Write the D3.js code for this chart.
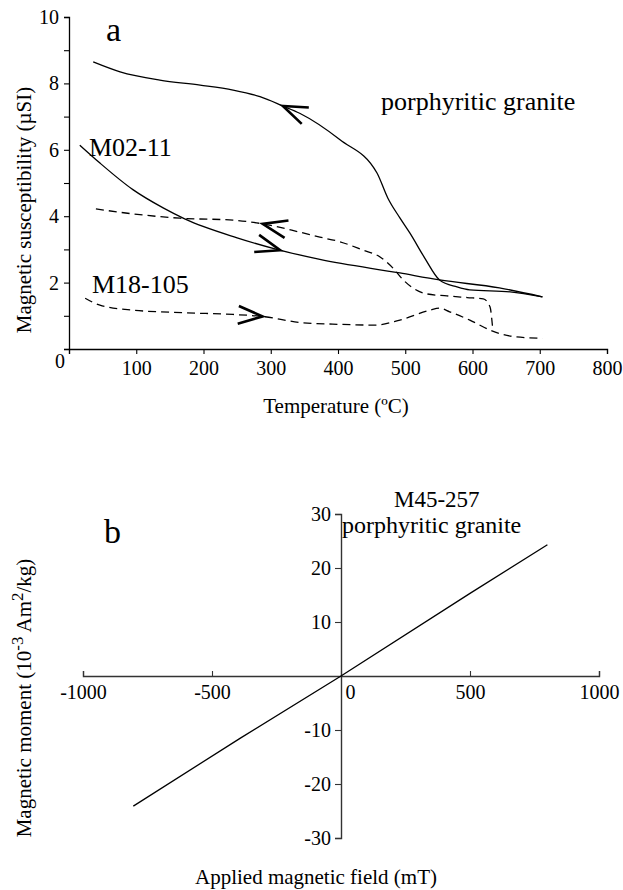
<!DOCTYPE html>
<html>
<head>
<meta charset="utf-8">
<script src="https://cdn.jsdelivr.net/npm/d3@7"></script>
<style>
body { margin: 0; background: #fff; }
svg text { font-family: "Liberation Serif", "Times New Roman", serif; fill: #000; }
</style>
</head>
<body>
<div id="chart"></div>
<script>
// panel a: susceptibility (uSI) vs temperature (C)
var m02HeatT = [16, 46, 95, 140, 172, 250, 313, 373, 492, 551, 640, 704];
var m02HeatK = [6.14, 5.6, 4.8, 4.25, 3.92, 3.35, 2.98, 2.7, 2.29, 2.08, 1.84, 1.57];

var m02CoolT = [36, 76, 135, 195, 244, 284, 318, 343, 403, 458, 474, 492, 507, 529, 551, 577, 596, 656, 704];
var m02CoolK = [8.65, 8.35, 8.1, 7.95, 7.8, 7.6, 7.32, 7.1, 6.3, 5.3, 4.55, 3.95, 3.49, 2.74, 2.08, 1.87, 1.78, 1.72, 1.57];

var m18HeatT = [24, 46, 95, 175, 244, 288, 343, 392, 455, 492, 537, 551, 566, 596, 626, 656, 704];
var m18HeatK = [1.53, 1.32, 1.17, 1.09, 1.04, 0.98, 0.8, 0.75, 0.72, 0.87, 1.17, 1.23, 1.12, 0.87, 0.57, 0.39, 0.32];

var m18CoolT = [40, 95, 165, 244, 288, 343, 373, 403, 437, 462, 482, 497, 512, 532, 562, 592, 616, 626, 630];
var m18CoolK = [4.22, 4.07, 3.94, 3.88, 3.77, 3.52, 3.37, 3.23, 2.98, 2.78, 2.43, 2.08, 1.83, 1.66, 1.6, 1.55, 1.51, 1.27, 0.62];

// direction arrows: which curve, at what temperature, pointing to lower (-1) or higher (+1) T
var arrowCurve = ["m02Cool", "m18Cool", "m02Heat", "m18Heat"];
var arrowT = [318, 288, 314, 288];
var arrowDir = [-1, -1, 1, 1];

var tempTicks = [0, 100, 200, 300, 400, 500, 600, 700, 800];
var suscTicks = [0, 1, 2, 3, 4, 5, 6, 7, 8, 9, 10];

// panel b: magnetic moment vs applied field
var fieldMT = [-805, -390, 0, 500, 800];
var momentVals = [-24.1, -11.5, 0, 15.3, 24.3];
var fieldTicks = [-1000, -500, 0, 500, 1000];
var momentTicks = [-30, -20, -10, 10, 20, 30];

var serif = "'Liberation Serif', 'Times New Roman', serif";

var svg = d3.select("#chart").append("svg")
    .attr("width", 623)
    .attr("height", 890)
    .style("font-family", serif);

function styleAxis(ax, col, w) {
    ax.attr("font-family", null).attr("font-size", null);
    ax.select(".domain").attr("stroke", col).attr("stroke-width", w);
    ax.selectAll(".tick line").attr("stroke", col).attr("stroke-width", 1.1);
    ax.selectAll(".tick text")
        .style("font-family", serif)
        .style("font-size", "20px")
        .attr("fill", "#000");
}

// ---------- panel a ----------
var xA = d3.scaleLinear().domain([0, 800]).range([69, 607]);
var yA = d3.scaleLinear().domain([0, 10]).range([349, 17]);

var gA = svg.append("g");

var xAxisA = gA.append("g")
    .attr("transform", "translate(0," + yA(0) + ")")
    .call(d3.axisBottom(xA).tickValues(tempTicks).tickSizeOuter(0).tickSize(5).tickPadding(7)
        .tickFormat(d => d === 0 ? "" : String(d)));

var yAxisA = gA.append("g")
    .attr("transform", "translate(" + xA(0) + ",0)")
    .call(d3.axisLeft(yA).tickValues(suscTicks).tickSizeOuter(0).tickSize(5).tickPadding(5)
        .tickFormat(d => d % 2 === 0 ? String(d) : ""));

styleAxis(xAxisA, "#000", 1.3);
styleAxis(yAxisA, "#000", 1.3);

// the 0 sits at the corner, a little lower
yAxisA.selectAll(".tick").filter(d => d === 0).select("text").attr("dy", "0.9em").attr("x", -4);

var curves = {
    m02Heat: { t: m02HeatT, k: m02HeatK, dash: null },
    m02Cool: { t: m02CoolT, k: m02CoolK, dash: null },
    m18Heat: { t: m18HeatT, k: m18HeatK, dash: "8,5" },
    m18Cool: { t: m18CoolT, k: m18CoolK, dash: "8,5" }
};

var lineA = d3.line()
    .x(d => xA(d[0]))
    .y(d => yA(d[1]))
    .curve(d3.curveMonotoneX);

Object.keys(curves).forEach(function(key) {
    var c = curves[key];
    gA.append("path")
        .datum(c.t.map((t, i) => [t, c.k[i]]))
        .attr("fill", "none")
        .attr("stroke", "#000")
        .attr("stroke-width", 1.3)
        .attr("stroke-dasharray", c.dash)
        .attr("d", lineA);
});

function kAt(c, t) {
    for (var i = 0; i < c.t.length - 1; i++) {
        if (t >= c.t[i] && t <= c.t[i + 1]) {
            var f = (t - c.t[i]) / (c.t[i + 1] - c.t[i]);
            return c.k[i] + f * (c.k[i + 1] - c.k[i]);
        }
    }
    return c.k[c.k.length - 1];
}

// chevron arrows along the curves
arrowCurve.forEach(function(key, i) {
    var c = curves[key];
    var t = arrowT[i];
    var tip = [xA(t), yA(kAt(c, t))];
    var tb = t - arrowDir[i] * 25;
    var back = [xA(tb), yA(kAt(c, tb))];
    var ang = Math.atan2(back[1] - tip[1], back[0] - tip[0]);
    var spread = 20 * Math.PI / 180, len = 26;
    var a1 = [tip[0] + len * Math.cos(ang - spread), tip[1] + len * Math.sin(ang - spread)];
    var a2 = [tip[0] + len * Math.cos(ang + spread), tip[1] + len * Math.sin(ang + spread)];
    gA.append("path")
        .attr("d", "M" + a1 + "L" + tip + "L" + a2)
        .attr("fill", "none")
        .attr("stroke", "#000")
        .attr("stroke-width", 2.6)
        .attr("stroke-linejoin", "miter");
});

gA.append("text").attr("x", 106).attr("y", 41).attr("font-size", "34px").text("a");
gA.append("text").attr("x", 381).attr("y", 110).attr("font-size", "26px").text("porphyritic granite");
gA.append("text").attr("x", 89).attr("y", 156).attr("font-size", "26px").text("M02-11");
gA.append("text").attr("x", 92).attr("y", 293).attr("font-size", "26px").text("M18-105");

gA.append("text")
    .attr("transform", "translate(31,210) rotate(-90)")
    .attr("text-anchor", "middle")
    .attr("font-size", "21px")
    .text("Magnetic susceptibility (\u00b5SI)");

gA.append("text")
    .attr("x", 336).attr("y", 413)
    .attr("text-anchor", "middle")
    .attr("font-size", "21px")
    .text("Temperature (\u00baC)");

// ---------- panel b ----------
var xB = d3.scaleLinear().domain([-1000, 1000]).range([83, 599]);
var yB = d3.scaleLinear().domain([-30, 30]).range([838, 514]);

var gB = svg.append("g");

var xAxisB = gB.append("g")
    .attr("transform", "translate(0," + yB(0) + ")")
    .call(d3.axisBottom(xB).tickValues(fieldTicks).tickSizeOuter(0).tickSize(-5).tickPadding(9)
        .tickFormat(d => String(d)));

var yAxisB = gB.append("g")
    .attr("transform", "translate(" + xB(0) + ",0)")
    .call(d3.axisLeft(yB).tickValues(momentTicks).tickSizeOuter(0).tickSize(6).tickPadding(4)
        .tickFormat(d => String(d)));

styleAxis(xAxisB, "#333", 1.4);
styleAxis(yAxisB, "#333", 1.4);

xAxisB.selectAll(".tick").filter(d => d === 0).select("text")
    .attr("text-anchor", "start").attr("x", 4);

var lineB = d3.line()
    .x(d => xB(d[0]))
    .y(d => yB(d[1]));

gB.append("path")
    .datum(fieldMT.map((f, i) => [f, momentVals[i]]))
    .attr("fill", "none")
    .attr("stroke", "#000")
    .attr("stroke-width", 1.3)
    .attr("d", lineB);

gB.append("text").attr("x", 104).attr("y", 543).attr("font-size", "34px").text("b");
gB.append("text").attr("x", 394).attr("y", 507).attr("font-size", "23px").text("M45-257");
gB.append("text").attr("x", 342).attr("y", 533).attr("font-size", "24px").text("porphyritic granite");

var yLabB = gB.append("text")
    .attr("transform", "translate(31,698) rotate(-90)")
    .attr("text-anchor", "middle")
    .attr("font-size", "21px");
yLabB.append("tspan").text("Magnetic moment (10");
yLabB.append("tspan").attr("dy", -8).attr("font-size", "17px").text("-3");
yLabB.append("tspan").attr("dy", 8).text(" Am");
yLabB.append("tspan").attr("dy", -8).attr("font-size", "17px").text("2");
yLabB.append("tspan").attr("dy", 8).text("/kg)");

gB.append("text")
    .attr("x", 316).attr("y", 884)
    .attr("text-anchor", "middle")
    .attr("font-size", "21px")
    .text("Applied magnetic field (mT)");
</script>
</body>
</html>
